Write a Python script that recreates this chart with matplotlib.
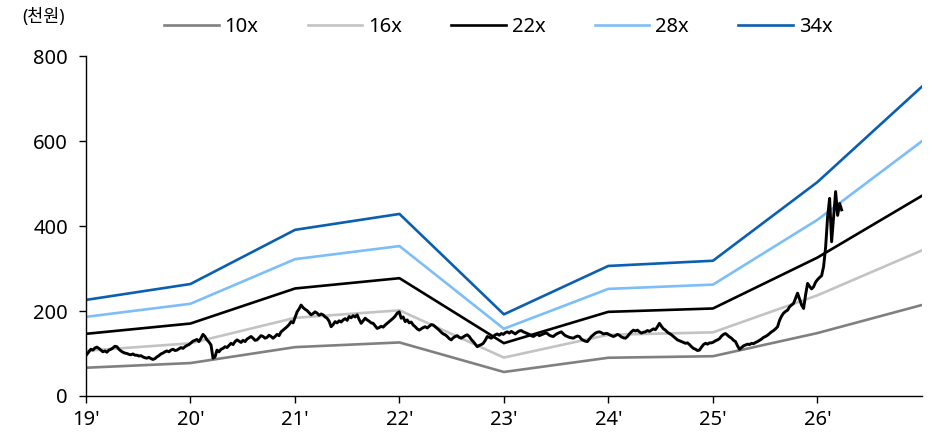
import matplotlib
matplotlib.use("Agg")
import matplotlib.pyplot as plt
import numpy as np
import pandas as pd

plt.rcParams['font.family'] = ['Noto Sans', 'Noto Sans CJK KR', 'DejaVu Sans']

# EPS estimates (thousand won) at the start of each year, 19' .. 27'
eps_years = ["2019-01-01", "2020-01-01", "2021-01-01", "2022-01-01", "2023-01-01",
             "2024-01-01", "2025-01-01", "2026-01-01", "2027-01-01"]
eps = [6.65, 7.75, 11.5, 12.6, 5.65, 9.0, 9.36, 14.8, 21.4]

multiples = [10, 16, 22, 28, 34]
band_colors = ["#808080", "#c3c3c3", "#000000", "#7dbdf8", "#0a5fb0"]

# weekly closing price (thousand won)
price_2019 = [98, 104, 110, 108, 113, 115, 112, 108, 104, 106, 103, 108, 110, 113, 117, 116, 110, 106,
              103, 101, 100, 98, 97, 99, 96, 96, 94, 95, 92, 90, 89, 91, 88, 86, 88, 92, 95, 99,
              101, 104, 106, 104, 108, 110, 107, 108, 111, 114, 112, 116, 119, 121]
price_2020 = [125, 129, 131, 133, 128, 136, 145, 140, 132, 127, 120, 89, 92, 108, 104, 110, 112, 116,
              114, 119, 124, 121, 128, 132, 129, 126, 131, 128, 134, 137, 140, 136, 131, 132, 137, 142,
              140, 136, 138, 143, 140, 136, 140, 145, 142, 151, 155, 159, 163, 168, 175, 172]
price_2021 = [185, 198, 205, 214, 208, 204, 201, 196, 191, 194, 198, 195, 190, 193, 191, 186, 183, 176,
              163, 168, 175, 172, 177, 174, 179, 182, 178, 187, 184, 189, 186, 191, 180, 171, 177, 183,
              179, 176, 172, 171, 165, 159, 161, 164, 162, 167, 171, 175, 179, 183, 188, 195]
price_2022 = [198, 183, 186, 175, 179, 172, 174, 167, 163, 158, 155, 158, 161, 163, 160, 164, 168, 167,
              163, 159, 155, 150, 146, 144, 140, 135, 132, 137, 140, 142, 138, 136, 139, 142, 144, 140,
              133, 128, 122, 116, 119, 121, 124, 131, 140, 138, 136, 140, 144, 146, 143, 147]
price_2023 = [145, 149, 151, 148, 152, 149, 146, 150, 153, 154, 151, 149, 147, 145, 142, 140, 143, 146,
              142, 144, 146, 148, 147, 143, 141, 140, 144, 147, 149, 151, 146, 142, 140, 138, 137, 136,
              139, 141, 140, 134, 131, 129, 128, 134, 140, 144, 148, 150, 151, 149, 146, 147]
price_2024 = [147, 144, 142, 140, 142, 145, 143, 139, 137, 136, 140, 146, 151, 155, 153, 155, 151, 148,
              150, 151, 154, 152, 155, 158, 156, 163, 171, 164, 158, 155, 150, 147, 144, 140, 136, 132,
              130, 128, 126, 124, 125, 121, 116, 112, 110, 107, 108, 115, 121, 124, 122, 125]
price_2025 = [125, 127, 130, 132, 135, 141, 145, 147, 143, 139, 136, 131, 128, 118, 110, 114, 118, 120,
              122, 121, 124, 123, 126, 128, 131, 134, 138, 140, 143, 147, 151, 154, 158, 163, 178, 188,
              195, 199, 202, 210, 214, 218, 230, 242, 228, 214, 206, 238, 265, 258, 252, 257]
price_2026 = [268, 274, 279, 283, 305, 350, 422, 465, 363, 422, 481, 425, 453, 438]

x_labels = ["19'", "20'", "21'", "22'", "23'", "24'", "25'", "26'"]

price = np.array(price_2019 + price_2020 + price_2021 + price_2022 + price_2023
                 + price_2024 + price_2025 + price_2026)
price_dates = pd.date_range("2019-01-04", periods=len(price), freq="7D")
band_dates = pd.to_datetime(eps_years)

fig = plt.figure(figsize=(9.33, 4.38), dpi=100)
ax = fig.add_axes([0.0922, 0.0959, 0.8957, 0.7762])

for mult, col in zip(multiples, band_colors):
    ax.plot(band_dates, np.array(eps) * mult, color=col, lw=1.9, label=f"{mult}x")

ax.plot(price_dates, price, color="black", lw=2.1)

ax.set_xlim(band_dates[0], band_dates[-1])
ax.set_ylim(0, 800)
ax.set_yticks([0, 200, 400, 600, 800])
ax.set_xticks(band_dates[:-1])
ax.set_xticklabels(x_labels)

for s in ["top", "right"]:
    ax.spines[s].set_visible(False)
for s in ["left", "bottom"]:
    ax.spines[s].set_linewidth(1.0)
ax.tick_params(axis="both", direction="out", length=5, width=1.0, labelsize=14.5, colors="black")
ax.tick_params(axis="x", pad=5)
ax.tick_params(axis="y", pad=8)

fig.text(0.024, 0.962, "(천원)", fontsize=12.5, ha="left", va="center")

fig.legend(loc="center", bbox_to_anchor=(0.534, 0.938), ncol=5, frameon=False,
           fontsize=14.5, handlelength=2.7, handletextpad=0.3, columnspacing=2.45)

fig.savefig("out.png", dpi=100)
